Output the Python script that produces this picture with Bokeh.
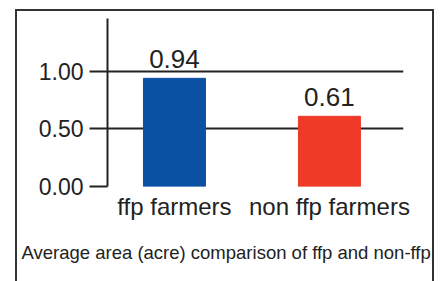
from bokeh.plotting import figure
from bokeh.models import Range1d, FixedTicker, ColumnDataSource, NumeralTickFormatter, Title
from bokeh.core.properties import value
from bokeh.embed import file_html
from bokeh.resources import INLINE

categories = ["ffp farmers", "non ffp farmers"]
values = [0.94, 0.61]
bar_colors = ["#0a50a3", "#ee3a27"]
y_ticks = [0.0, 0.5, 1.0]
caption = "Average area (acre) comparison of ffp and non-ffp"

FONT = "Liberation Sans"
INK = "#222222"
BORDER = "#333333"

xs = [i + 1 for i in range(len(categories))]
labels = [f"{v:.2f}" for v in values]
src = ColumnDataSource(dict(x=xs, top=values, color=bar_colors, label=labels))

p = figure(width=444, height=281, output_backend="svg", toolbar_location=None,
           x_range=Range1d(0.568, 2.478), y_range=Range1d(0, 1.46),
           min_border_left=107, min_border_right=41, min_border_top=18, min_border_bottom=95)
p.outline_line_color = None
p.background_fill_color = None
p.border_fill_color = None

# outer panel border drawn as CSS background lines behind the transparent canvas
p.styles = {
    "background-color": "white",
    "background-image": f"linear-gradient({BORDER},{BORDER}), linear-gradient({BORDER},{BORDER}), linear-gradient({BORDER},{BORDER})",
    "background-position": "15px 9px, 15px 9px, 432px 9px",
    "background-size": "2px 300px, 419px 2px, 2px 300px",
    "background-repeat": "no-repeat",
}

p.vbar(x="x", top="top", width=0.4, bottom=0, color="color", source=src)
p.text(x="x", y="top", text="label", text_align="center", text_baseline="alphabetic",
       y_offset=-19, text_font=value(FONT), text_font_size="26px", text_color=INK, source=src)

# x axis
p.xaxis.ticker = FixedTicker(ticks=xs)
p.xaxis.major_label_overrides = {x: c for x, c in zip(xs, categories)}
p.xaxis.axis_line_color = None
p.xaxis.major_tick_line_color = None
p.xaxis.minor_tick_line_color = None
p.xaxis.major_label_standoff = 0
p.xaxis.major_label_text_font = FONT
p.xaxis.major_label_text_font_size = "24px"
p.xaxis.major_label_text_color = INK
p.xgrid.visible = False

# y axis
p.yaxis.ticker = FixedTicker(ticks=y_ticks)
p.yaxis.formatter = NumeralTickFormatter(format="0.00")
p.yaxis.axis_line_color = INK
p.yaxis.axis_line_width = 2
p.yaxis.major_tick_out = 18
p.yaxis.major_tick_in = 0
p.yaxis.major_tick_line_width = 2
p.yaxis.major_tick_line_color = INK
p.yaxis.minor_tick_line_color = None
p.yaxis.major_label_standoff = 6
p.yaxis.major_label_text_font = FONT
p.yaxis.major_label_text_font_size = "23px"
p.yaxis.major_label_text_color = INK
p.ygrid.ticker = FixedTicker(ticks=y_ticks)
p.ygrid.grid_line_color = INK
p.ygrid.grid_line_width = 2

cap = Title(text=caption, align="left", offset=-86, text_font=FONT,
            text_font_size="18.5px", text_color=INK, text_font_style="normal", standoff=34)
p.add_layout(cap, "below")

open("out.html", "w").write(file_html(p, INLINE))
